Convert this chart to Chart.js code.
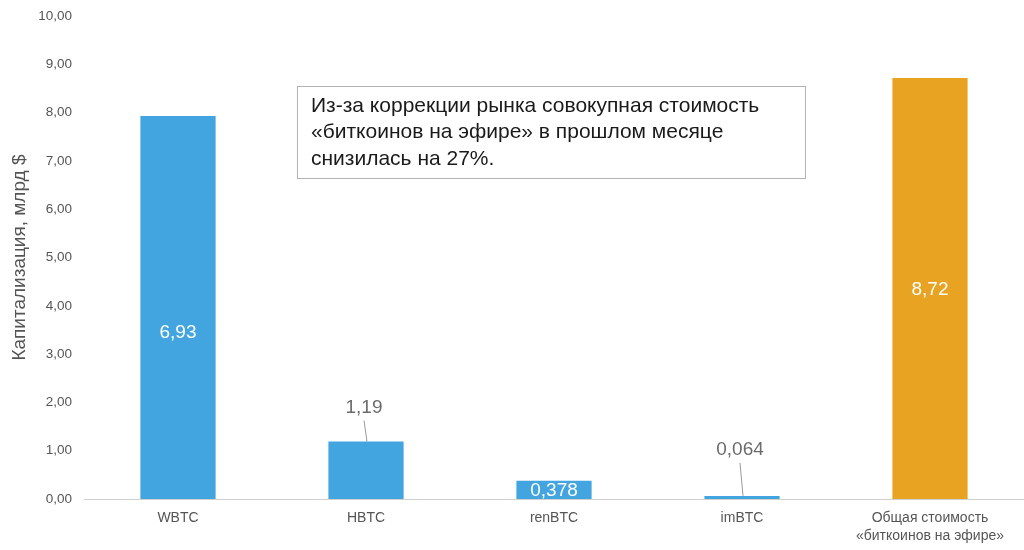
<!DOCTYPE html>
<html>
<head>
<meta charset="utf-8">
<script src="https://cdn.jsdelivr.net/npm/chart.js@4.4.0/dist/chart.umd.min.js"></script>
<style>
  html, body { margin: 0; padding: 0; background: #fff; }
  #wrap { width: 1024px; height: 546px; margin-top: 4px; }
</style>
</head>
<body>
<div id="wrap"><canvas id="chart"></canvas></div>
<script>
// категории и значения (высота столбцов)
var categories = ['WBTC', 'HBTC', 'renBTC', 'imBTC', ['Общая стоимость', '«биткоинов на эфире»']];
var values = [7.93, 1.19, 0.378, 0.064, 8.72];
// подписи как на картинке
var valueLabels = ['6,93', '1,19', '0,378', '0,064', '8,72'];
var labelInside = [true, false, true, false, true];
var barColors = ['#42A5E0', '#42A5E0', '#42A5E0', '#42A5E0', '#E8A323'];
var note = ['Из-за коррекции рынка совокупная стоимость', '«биткоинов на эфире» в прошлом месяце', 'снизилась на 27%.'];

var FONT = '"Liberation Sans", Arial, sans-serif';

function toNum(s) { return parseFloat(s.replace(',', '.')); }

var labelsPlugin = {
    id: 'barLabels',
    afterDatasetsDraw: function(chart) {
        var ctx = chart.ctx;
        var y = chart.scales.y;
        var meta = chart.getDatasetMeta(0);
        ctx.save();
        ctx.font = '19px ' + FONT;
        ctx.textAlign = 'center';
        ctx.textBaseline = 'middle';
        meta.data.forEach(function(bar, i) {
            var v = toNum(valueLabels[i]);
            var top = y.getPixelForValue(values[i]);
            if (labelInside[i]) {
                ctx.fillStyle = '#fff';
                ctx.fillText(valueLabels[i], bar.x, y.getPixelForValue(v / 2) + 1);
            } else {
                // подпись сверху с выноской
                var off = i === 1 ? 34 : 46;
                var ly = top - off;
                ctx.strokeStyle = '#999';
                ctx.lineWidth = 1;
                ctx.beginPath();
                ctx.moveTo(bar.x + 1, top);
                ctx.lineTo(bar.x - 2, ly + 13);
                ctx.stroke();
                ctx.fillStyle = '#6b6b6b';
                ctx.fillText(valueLabels[i], bar.x - 2, ly);
            }
        });
        ctx.restore();
    }
};

// рамка с текстом (координаты страницы, канвас сдвинут на 4px вниз)
var notePlugin = {
    id: 'note',
    afterDraw: function(chart) {
        var ctx = chart.ctx;
        ctx.save();
        ctx.translate(0, -4);
        ctx.fillStyle = '#fff';
        ctx.fillRect(297, 86, 508, 92);
        ctx.strokeStyle = '#b3b3b3';
        ctx.lineWidth = 1;
        ctx.strokeRect(297.5, 86.5, 508, 92);
        ctx.fillStyle = '#1a1a1a';
        ctx.font = '21px ' + FONT;
        ctx.textAlign = 'left';
        ctx.textBaseline = 'middle';
        note.forEach(function(line, i) {
            ctx.fillText(line, 311, 106 + i * 26.5);
        });
        ctx.restore();
    }
};

var ctx = document.getElementById('chart').getContext('2d');
var myChart = new Chart(ctx, {
    type: 'bar',
    data: {
        labels: categories,
        datasets: [{
            data: values,
            backgroundColor: barColors,
            barPercentage: 0.8,
            categoryPercentage: 0.5
        }]
    },
    options: {
        responsive: true,
        maintainAspectRatio: false,
        animation: false,
        layout: { padding: { top: 5, right: 0, left: 8, bottom: 0 } },
        plugins: {
            legend: { display: false },
            tooltip: { enabled: false }
        },
        scales: {
            x: {
                grid: { display: false },
                border: { display: true, color: '#d0d0d0', width: 1 },
                ticks: { color: '#555', font: { family: FONT, size: 14, lineHeight: 1.3 }, padding: 2, maxRotation: 0 },
                afterFit: function(s) { s.height = 51; }
            },
            y: {
                min: 0,
                max: 10,
                grid: { display: false },
                border: { display: false },
                ticks: {
                    stepSize: 1,
                    color: '#555',
                    padding: 4,
                    font: { family: FONT, size: 13.5 },
                    callback: function(v) { return v.toFixed(2).replace('.', ','); }
                },
                title: {
                    display: true,
                    text: 'Капитализация, млрд $',
                    color: '#555',
                    font: { family: FONT, size: 19 },
                    padding: { top: 0, bottom: 6 }
                },
                afterFit: function(s) { s.width = 76; }
            }
        }
    },
    plugins: [labelsPlugin, notePlugin]
});
</script>
</body>
</html>
